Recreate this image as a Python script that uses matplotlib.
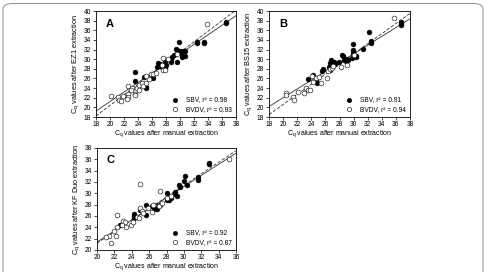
import matplotlib
matplotlib.use("Agg")
import matplotlib.pyplot as plt
import numpy as np
from matplotlib.patches import FancyBboxPatch
from matplotlib import font_manager

# ---------------- data ----------------
# Panel A (EZ1)
a_sbv_x = [36.6, 36.6, 33.4, 33.4, 32.4, 32.4, 29.9, 29.4, 29.6, 30.0, 30.4, 30.7, 30.1, 30.3, 30.7,
           29.6, 29.2, 28.8, 28.7, 28.7, 27.8, 27.8, 27.1, 27.4, 27.8, 26.9, 26.7, 26.0, 26.2, 25.8,
           24.8, 23.6, 23.6, 25.1, 25.1, 27.0, 28.0]
a_sbv_y = [37.5, 37.8, 33.6, 33.3, 33.5, 33.3, 33.5, 32.1, 31.9, 31.7, 31.7, 31.7, 31.3, 30.5, 30.6,
           29.4, 30.8, 30.5, 29.4, 29.8, 29.9, 29.4, 29.1, 28.4, 28.1, 29.2, 28.4, 26.5, 26.0, 26.2,
           26.2, 27.4, 25.4, 24.2, 24.0, 28.6, 28.8]
a_bvdv_x = [33.8, 20.1, 21.2, 21.3, 21.5, 21.9, 22.5, 22.6, 22.4, 22.5, 23.1, 23.0, 23.5, 23.5,
            23.8, 24.1, 24.2, 24.5, 24.7, 25.2, 25.5, 25.2, 25.8, 26.2, 27.4, 27.6, 27.9, 27.5,
            28.3, 29.5, 26.6]
a_bvdv_y = [37.2, 22.4, 22.2, 21.6, 21.4, 22.3, 22.7, 22.2, 21.8, 24.5, 24.1, 23.6, 22.8, 22.5,
            24.1, 23.7, 24.6, 25.0, 24.4, 25.1, 25.8, 26.5, 27.0, 26.9, 28.7, 27.7, 27.8, 30.3,
            30.0, 31.0, 27.1]
a_lines = [(0.99, 1.4), (1.10, -1.6)]  # (slope, intercept): solid, dashed
a_r2 = ["0.98", "0.93"]

# Panel B (BS15)
b_sbv_x = [36.7, 36.7, 36.7, 32.25, 32.4, 32.5, 31.4, 29.9, 29.9, 29.9, 30.1, 30.4, 29.8, 29.1,
           28.7, 28.5, 28.4, 27.9, 27.2, 27.4, 26.6, 26.8, 26.5, 26.7, 25.5, 25.6, 24.6, 23.6,
           24.3, 24.8, 28.9, 29.2, 30.4]
b_sbv_y = [37.8, 37.4, 37.1, 35.6, 33.8, 33.3, 32.2, 33.2, 32.0, 31.2, 30.6, 30.5, 30.3, 30.1,
           29.8, 30.6, 30.8, 29.5, 29.4, 29.1, 29.2, 29.9, 28.4, 27.8, 27.5, 28.0, 25.6, 25.8,
           26.7, 25.1, 29.7, 29.9, 30.6]
b_bvdv_x = [35.7, 20.4, 20.4, 21.4, 21.5, 22.1, 22.9, 23.3, 23.5, 23.8, 24.1, 24.2, 24.6, 25.1,
            25.4, 26.2, 26.4, 26.7, 26.9, 27.1, 28.2, 29.0, 30.0]
b_bvdv_y = [38.5, 23.0, 22.5, 22.2, 21.6, 23.2, 23.0, 24.1, 23.6, 23.7, 26.5, 25.3, 26.0, 26.2,
            25.0, 26.1, 27.6, 28.0, 28.1, 28.5, 28.4, 28.8, 30.8]
b_lines = [(0.91, 3.8), (1.05, -0.4)]
b_r2 = ["0.91", "0.94"]

# Panel C (KF Duo)
c_sbv_x = [32.9, 32.9, 31.6, 31.6, 30.1, 30.0, 30.4, 29.4, 29.6, 28.96, 29.0, 29.2, 28.1, 28.3,
           28.0, 28.5, 27.3, 26.9, 26.6, 25.6, 25.6, 25.0, 24.25, 24.25, 24.25, 22.6, 26.3, 26.9]
c_sbv_y = [35.4, 35.1, 32.8, 32.4, 33.0, 32.2, 31.5, 31.5, 31.1, 30.3, 29.8, 29.6, 30.0, 28.9,
           28.8, 29.1, 28.0, 27.3, 27.3, 28.0, 26.2, 27.1, 26.4, 26.0, 25.7, 24.5, 27.7, 27.7]
c_bvdv_x = [35.2, 24.95, 27.2, 22.3, 21.6, 21.4, 21.0, 22.2, 22.0, 22.3, 23.0, 23.2, 22.9, 23.3,
            23.9, 24.1, 24.6, 24.8, 25.0, 25.2, 25.3, 25.9, 26.3, 26.6, 26.5, 27.1, 27.5, 28.1,
            28.5]
c_bvdv_y = [36.0, 31.7, 30.4, 26.1, 21.3, 22.5, 22.3, 22.5, 23.4, 24.0, 25.2, 24.9, 24.5, 24.0,
            24.5, 25.0, 25.9, 25.7, 27.5, 26.9, 26.6, 27.4, 26.7, 28.0, 28.0, 27.7, 28.3, 29.2,
            29.5]
c_lines = [(0.98, 1.8), (1.02, 0.8)]
c_r2 = ["0.92", "0.87"]

panels = [
    dict(letter="A", sx=a_sbv_x, sy=a_sbv_y, bx=a_bvdv_x, by=a_bvdv_y, lines=a_lines, r2=a_r2,
         xlim=(18, 38), ylim=(18, 40), ylabel="EZ1", pos=[96, 11, 236, 117]),
    dict(letter="B", sx=b_sbv_x, sy=b_sbv_y, bx=b_bvdv_x, by=b_bvdv_y, lines=b_lines, r2=b_r2,
         xlim=(18, 38), ylim=(18, 40), ylabel="BS15", pos=[269, 11, 410, 117]),
    dict(letter="C", sx=c_sbv_x, sy=c_sbv_y, bx=c_bvdv_x, by=c_bvdv_y, lines=c_lines, r2=c_r2,
         xlim=(20, 36), ylim=(20, 38), ylabel="KF Duo", pos=[97, 148, 236, 250]),
]

names = {f.name for f in font_manager.fontManager.ttflist}
narrow = "Liberation Sans Narrow" if "Liberation Sans Narrow" in names else "Liberation Sans"
plt.rcParams['font.family'] = [narrow, 'DejaVu Sans']
plt.rcParams['mathtext.fontset'] = 'custom'
plt.rcParams['mathtext.rm'] = narrow

W, H = 486, 272
fig = plt.figure(figsize=(W / 100, H / 100), dpi=100)

# rounded frame around figure
frame = FancyBboxPatch((3 / W, -0.1), (W - 6) / W, 1 - 3.5 / H + 0.1,
                       boxstyle="round,pad=0,rounding_size=0.02",
                       transform=fig.transFigure, fill=False, ec="#9a9a9a", lw=0.8)
fig.patches.append(frame)

for p in panels:
    x0, y0, x1, y1 = p["pos"]
    ax = fig.add_axes([x0 / W, 1 - y1 / H, (x1 - x0) / W, (y1 - y0) / H])
    xs = np.array(p["xlim"], dtype=float)
    (s1, i1), (s2, i2) = p["lines"]
    ax.plot(xs, s1 * xs + i1, "-", color="#333333", lw=0.6)
    ax.plot(xs, s2 * xs + i2, "--", color="#333333", lw=0.6, dashes=(4, 2))
    h1 = ax.scatter(p["sx"], p["sy"], s=12, c="black", edgecolors="black", linewidths=0.4, zorder=3)
    h2 = ax.scatter(p["bx"], p["by"], s=12, facecolors="white", edgecolors="black", linewidths=0.4,
                    zorder=3)
    ax.set_xlim(*p["xlim"])
    ax.set_ylim(*p["ylim"])
    ax.set_xticks(np.arange(p["xlim"][0], p["xlim"][1] + 1, 2))
    ax.set_yticks(np.arange(p["ylim"][0], p["ylim"][1] + 1, 2))
    ax.tick_params(axis="x", labelsize=4.8, length=2, width=0.5, pad=1.0, direction="out")
    ax.tick_params(axis="y", labelsize=4.8, length=2, width=0.5, pad=1.5, direction="out")
    for sp in ax.spines.values():
        sp.set_linewidth(0.6)
    ax.set_xlabel("C$_\\mathregular{q}$ values after manual extraction", fontsize=5, labelpad=0.3)
    ax.set_ylabel("C$_\\mathregular{q}$ values after %s extraction" % p["ylabel"], fontsize=5.3,
                  labelpad=2)
    ax.text(0.07, 0.88, p["letter"], transform=ax.transAxes, fontsize=8, fontweight="bold",
            va="center", ha="left")
    ax.legend([h1, h2], ["SBV, r² = %s" % p["r2"][0], "BVDV, r² = %s" % p["r2"][1]],
              loc="lower right", fontsize=4.8, frameon=False, handletextpad=0.6,
              borderaxespad=0.2, labelspacing=0.4, markerscale=0.9, bbox_to_anchor=(1.0, 0.0))

fig.savefig("out.png", dpi=100)
